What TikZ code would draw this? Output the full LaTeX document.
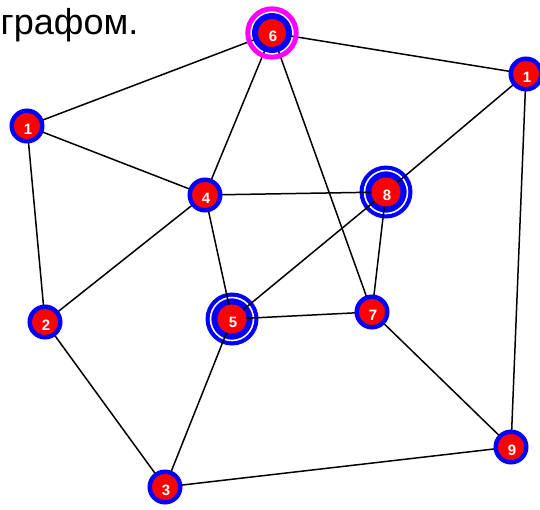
\documentclass[tikz,border=0pt]{standalone}
\usepackage{fontspec}
\setmainfont{Liberation Sans}
\usetikzlibrary{backgrounds}
\definecolor{mag}{RGB}{255,0,255}
\definecolor{bl}{RGB}{0,0,255}
\definecolor{rd}{RGB}{255,0,0}
\begin{document}
\begin{tikzpicture}[x=1pt,y=-1pt,
  vtx/.style={circle,fill=rd,draw=bl,line width=4.5pt,minimum size=30.5pt,inner sep=0pt},
  bigvtx/.style={circle,fill=rd,minimum size=29pt,inner sep=0pt},
  lbl/.style={text=white,font=\bfseries\fontsize{15}{15}\selectfont,yshift=-3pt,xshift=1pt},
  edge/.style={line width=1.5pt,black}]
\useasboundingbox (0,0) rectangle (540,509);
\node[anchor=base west,font=\fontsize{36}{36}\selectfont,inner sep=0pt] (title) at (0.5,34) {графом.};
\node[vtx] (n1) at (27,126) {};
\node[vtx] (n2) at (45,322) {};
\node[vtx] (n3) at (165,487) {};
\node[vtx] (n4) at (205,195) {};
\node[bigvtx] (n5) at (232,319) {};
\node[circle,fill=rd,draw=bl,line width=6pt,minimum size=34pt,inner sep=0pt] (n6) at (272,33) {};
\draw[mag,line width=5pt] (n6.center) circle (24.2);
\node[vtx] (n7) at (372,312) {};
\node[bigvtx] (n8) at (386,192) {};
\node[vtx] (n9) at (511,447) {};
\node[vtx] (n1r) at (526,74) {};
\foreach \n/\t in {n1/1,n2/2,n3/3,n4/4,n5/5,n6/6,n7/7,n8/8,n9/9,n1r/1}
  \node[lbl] at (\n.center) {\t};
\begin{pgfonlayer}{background}
\foreach \n in {n5,n8}{
  \fill[bl] (\n.center) circle (26.5);
  \draw[white,line width=1.6pt] (\n.center) circle (21.5);
}
\foreach \a/\b in {n1/n6,n1/n4,n1/n2,n2/n4,n2/n3,n3/n5,n3/n9,n4/n6,n4/n8,n4/n5,n5/n7,n5/n8,n6/n7,n6/n1r,n8/n1r,n8/n7,n7/n9,n1r/n9}
  \draw[edge] (\a.center) -- (\b.center);
\end{pgfonlayer}
\end{tikzpicture}
\end{document}
